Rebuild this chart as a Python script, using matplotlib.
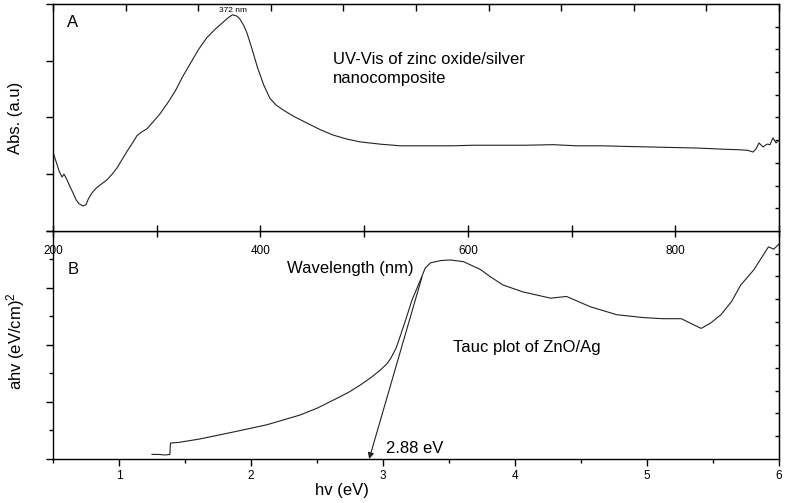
import numpy as np
import matplotlib
matplotlib.use("Agg")
import matplotlib.pyplot as plt

plt.rcParams['font.family'] = ['Liberation Sans', 'DejaVu Sans']
plt.rcParams['mathtext.default'] = 'regular'

# panel A: UV-Vis spectrum
wavelength = [200, 203, 206, 208.7, 210.6, 213, 216.4, 219, 222.2, 225, 228.9, 231.8, 234, 237.6,
              242, 247, 252, 257, 261.7, 267, 272, 277, 281, 286, 290.6, 296.4, 303, 310, 318, 325,
              333, 340, 348, 356, 364, 369, 373, 377, 380, 384, 387, 392, 397, 403, 409, 415, 422,
              433, 445, 457, 470, 483, 496, 515, 535, 560, 585, 605, 630, 655, 682, 705, 730, 750,
              775, 798, 822, 846, 862, 870, 875, 878, 880.7, 884.6, 888.4, 891.3, 894.2, 897.1, 900]
absorbance = [1.39, 1.22, 1.05, 0.95, 1.00, 0.92, 0.78, 0.68, 0.55, 0.48, 0.44, 0.46, 0.56, 0.67,
              0.76, 0.83, 0.90, 1.00, 1.11, 1.27, 1.42, 1.56, 1.68, 1.75, 1.80, 1.92, 2.06, 2.24, 2.47, 2.72,
              2.97, 3.19, 3.40, 3.55, 3.68, 3.76, 3.81, 3.79, 3.74, 3.62, 3.49, 3.20, 2.89, 2.58, 2.34, 2.22, 2.13,
              2.01, 1.90, 1.79, 1.69, 1.62, 1.57, 1.53, 1.50, 1.50, 1.50, 1.51, 1.51, 1.51, 1.52, 1.50, 1.50, 1.49,
              1.48, 1.47, 1.46, 1.44, 1.43, 1.42, 1.39, 1.45, 1.55, 1.48, 1.53, 1.52, 1.64, 1.55, 1.60]

# panel B: Tauc plot
energy = [1.25, 1.30, 1.35, 1.385, 1.39, 1.45, 1.61, 1.86, 2.12, 2.37, 2.50, 2.63, 2.74, 2.83, 2.91,
          2.98, 3.03, 3.06, 3.10, 3.13, 3.18, 3.22, 3.28, 3.32, 3.36, 3.44, 3.51, 3.61, 3.74, 3.81, 3.91, 4.06,
          4.27, 4.39, 4.57, 4.77, 4.97, 5.12, 5.26, 5.33, 5.41, 5.48, 5.56, 5.64, 5.71, 5.81, 5.92, 5.96, 6.0]
tauc = [0.08, 0.08, 0.07, 0.08, 0.28, 0.29, 0.35, 0.47, 0.60, 0.77, 0.89, 1.04, 1.17, 1.30, 1.43,
        1.56, 1.67, 1.77, 1.95, 2.15, 2.50, 2.79, 3.12, 3.35, 3.44, 3.48, 3.49, 3.46, 3.32, 3.20, 3.05, 2.93,
        2.82, 2.85, 2.67, 2.53, 2.48, 2.46, 2.46, 2.38, 2.29, 2.38, 2.53, 2.76, 3.05, 3.32, 3.72, 3.68, 3.77]

band_gap = 2.88
tangent_base = (2.895, 0)
tangent_top = (3.295, 3.19)

line_col = '#222222'
fig = plt.figure(figsize=(7.9, 5.03), dpi=100)

# B first so that A's tick labels end up on top
axB = fig.add_axes([0.0671, 0.0875, 0.9190, 0.4535])
axA = fig.add_axes([0.0671, 0.5410, 0.9190, 0.4510])

for ax in (axA, axB):
    for s in ax.spines.values():
        s.set_linewidth(1.0)

# ---- panel A
axA.plot(wavelength, absorbance, color=line_col, lw=0.8)
axA.set_xlim(200, 900)
axA.set_ylim(0, 4)
axA.set_xticks([200, 400, 600, 800])
axA.set_xticks([300, 500, 700, 900], minor=True)
axA.tick_params(axis='x', which='both', direction='inout', length=8, width=1,
                labelsize=8.5, pad=6, top=False)
axA.set_yticks([0, 1, 2, 3, 4])
axA.set_yticklabels([])
axA.tick_params(axis='y', direction='out', length=5, width=1, right=False)
topA = axA.secondary_xaxis('top')
topA.set_xticks(np.arange(200, 901, 70))
topA.tick_params(direction='in', length=5, width=1, labeltop=False)
rightA = axA.secondary_yaxis('right')
rightA.set_yticks(np.arange(0.4, 3.7, 0.4))
rightA.tick_params(direction='in', length=3, width=1, labelright=False)
axA.set_xlabel('Wavelength (nm)', fontsize=12)
axA.xaxis.label.set_va('center')
axA.xaxis.set_label_coords(0.409, -0.167)
axA.set_ylabel('Abs. (a.u)', fontsize=12)
axA.yaxis.label.set_va('center')
axA.yaxis.set_label_coords(-0.052, 0.5)
axA.text(213.5, 3.67, 'A', fontsize=12, va='center')
axA.text(373.6, 3.88, '372 nm', fontsize=6, ha='center', va='center')
axA.text(470, 2.85, 'UV-Vis of zinc oxide/silver\nnanocomposite', fontsize=12,
         va='center', linespacing=1.3)

# ---- panel B
axB.plot(energy, tauc, color=line_col, lw=0.8)
axB.set_xlim(0.5, 6)
axB.set_ylim(0, 4)
axB.set_xticks([1, 2, 3, 4, 5, 6])
axB.set_xticks(np.arange(0.5, 6.01, 0.5), minor=True)
axB.tick_params(axis='x', which='major', direction='out', length=5, width=1, labelsize=8.5, pad=3, top=False)
axB.tick_params(axis='x', which='minor', direction='out', length=3, width=1, top=False)
axB.set_yticks([0, 1, 2, 3, 4])
axB.set_yticks(np.arange(0.5, 4, 1.0), minor=True)
axB.set_yticklabels([])
axB.tick_params(axis='y', which='major', direction='out', length=5, width=1, right=False)
axB.tick_params(axis='y', which='minor', direction='out', length=3, width=1, right=False)
rightB = axB.secondary_yaxis('right')
rightB.set_yticks(np.arange(0.4, 3.7, 0.4))
rightB.tick_params(direction='in', length=3, width=1, labelright=False)
axB.set_xlabel('hv (eV)', fontsize=12)
axB.xaxis.label.set_va('center')
axB.xaxis.set_label_coords(0.398, -0.136)
axB.set_ylabel('ahv (eV/cm)$^2$', fontsize=12)
axB.yaxis.label.set_va('center')
axB.yaxis.set_label_coords(-0.052, 0.518)
axB.text(0.61, 3.33, 'B', fontsize=12, va='center')
axB.text(3.53, 1.95, 'Tauc plot of ZnO/Ag', fontsize=12, va='center')
axB.text(3.02, 0.19, '%.2f eV' % band_gap, fontsize=12, va='center')
axB.annotate('', xy=tangent_base, xytext=tangent_top,
             arrowprops=dict(arrowstyle='-|>', color=line_col, lw=0.8, mutation_scale=9,
                             shrinkA=0, shrinkB=0))

fig.savefig('out.png', dpi=100)
